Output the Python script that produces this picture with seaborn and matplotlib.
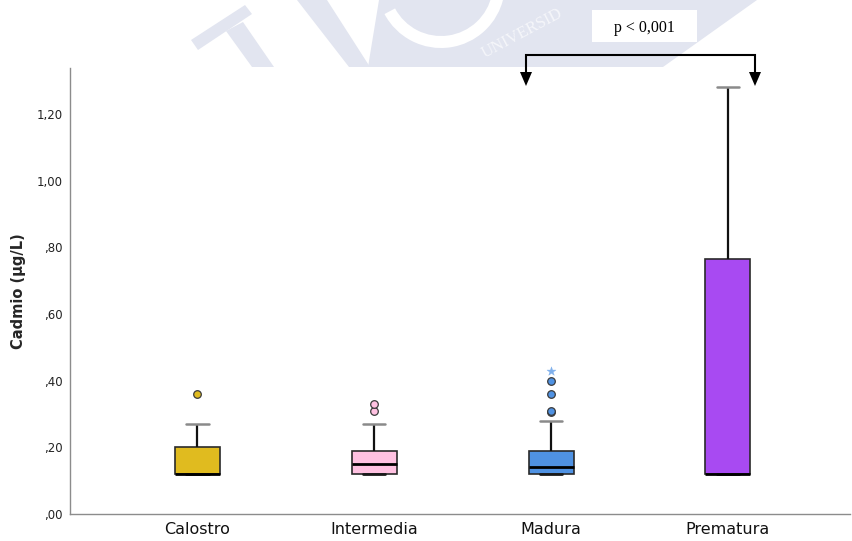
import numpy as np
import pandas as pd
import seaborn as sns
import matplotlib.pyplot as plt
from matplotlib.patches import Polygon, Rectangle, Wedge

# Cadmium concentration (µg/L) per milk type
grupos = ["Calostro", "Intermedia", "Madura", "Prematura"]
calostro = [0.12, 0.12, 0.12, 0.12, 0.12, 0.12, 0.12, 0.16, 0.20, 0.20, 0.21, 0.27, 0.36]
intermedia = [0.12, 0.12, 0.12, 0.12, 0.12, 0.13, 0.14, 0.14, 0.15, 0.16, 0.17, 0.18,
              0.19, 0.21, 0.27, 0.31, 0.33]
madura = [0.12, 0.12, 0.12, 0.12, 0.12, 0.12, 0.12, 0.12, 0.12, 0.13, 0.13, 0.13,
          0.14, 0.14, 0.14, 0.15, 0.16, 0.17, 0.18, 0.18, 0.19, 0.19, 0.23, 0.28,
          0.305, 0.31, 0.36, 0.40, 0.43]
prematura = [0.12, 0.12, 0.12, 0.765, 1.28]
colores = ["#e0bb1f", "#ffc1e1", "#4f92e3", "#a84af2"]
ytick_vals = [0.0, 0.2, 0.4, 0.6, 0.8, 1.0, 1.2]
ytick_labels = [",00", ",20", ",40", ",60", ",80", "1,00", "1,20"]
p_texto = "p < 0,001"

valores = [calostro, intermedia, madura, prematura]
df = pd.DataFrame({
    "grupo": np.repeat(grupos, [len(v) for v in valores]),
    "cadmio": np.concatenate(valores),
})

sns.set_theme(style="white")
plt.rcParams["font.family"] = ["DejaVu Sans"]

fig = plt.figure(figsize=(8.53, 5.41), dpi=100)
ax = fig.add_axes([70 / 853, 1 - 514 / 541, 780 / 853, (514 - 68) / 541])
ax.set_facecolor("none")

sns.boxplot(
    data=df, x="grupo", y="cadmio", hue="grupo", order=grupos, hue_order=grupos,
    palette=colores, saturation=1, width=0.254, linecolor="#2a2a2a", linewidth=1.2,
    showfliers=False, whis=1.5, legend=False, ax=ax,
    medianprops=dict(color="black", linewidth=2.0),
    whiskerprops=dict(color="#111111", linewidth=1.6),
    capprops=dict(color="#8a8a8a", linewidth=1.8),
)
# lower caps sit on the box edge and read as black
for cont in ax.containers:
    caps = getattr(cont, "caps", None)
    if caps is not None:
        for k in range(0, len(caps), 2):
            caps[k].set_color("#1a1a1a")
            caps[k].set_linewidth(2.0)

# outliers: circles beyond 1.5 IQR, stars beyond 3 IQR
for i, (vals, col) in enumerate(zip(valores, colores)):
    v = np.asarray(vals)
    q1, q3 = np.percentile(v, [25, 75])
    iqr = q3 - q1
    mild = v[(v > q3 + 1.5 * iqr + 1e-9) & (v <= q3 + 3 * iqr + 1e-9)]
    extreme = v[v > q3 + 3 * iqr + 1e-9]
    ax.scatter(np.full(len(mild), i), mild, s=30, color=col, edgecolor="#3a3a3a",
               linewidth=0.9, zorder=5)
    ax.scatter(np.full(len(extreme), i), extreme, s=45, marker="*", color="#7fb0ec",
               edgecolor="#7fb0ec", linewidth=0.3, zorder=5)

ax.set_xlim(-0.72, 3.69)
ax.set_ylim(0, 1.338)
ax.set_yticks(ytick_vals)
ax.set_yticklabels(ytick_labels, fontsize=8.5, color="#222222")
ax.set_xlabel("")
ax.set_ylabel("Cadmio (µg/L)", fontsize=10.5, fontweight="bold")
ax.yaxis.set_label_coords(-44 / 780, 0.5)
ax.tick_params(axis="y", length=0, pad=5)
ax.tick_params(axis="x", length=0, pad=6, labelsize=11.5, labelcolor="#111111")
for s in ["top", "right"]:
    ax.spines[s].set_visible(False)
for s in ["left", "bottom"]:
    ax.spines[s].set_color("#8c8c8c")
    ax.spines[s].set_linewidth(1.0)

# overlay in pixel units for the header logo and significance bracket
ov = fig.add_axes([0, 0, 1, 1], zorder=10)
ov.set_xlim(0, 853)
ov.set_ylim(541, 0)
ov.axis("off")
ov.patch.set_alpha(0)

lav = "#e2e5f0"
clip = Rectangle((0, 0), 853, 67, transform=ov.transData)
shapes = [
    Polygon([(191, 40), (245, 5), (252, 14), (198, 50)], closed=True),
    Polygon([(226, 31), (243, 22), (274, 67), (252, 67)], closed=True),
    Polygon([(297, 0), (327, 0), (370, 67), (349, 67)], closed=True),
    Polygon([(379, 0), (757, 0), (663, 67), (368, 67)], closed=True),
]
for p in shapes:
    p.set_facecolor(lav)
    p.set_edgecolor("none")
    ov.add_patch(p)
    p.set_clip_path(clip)
ring = Wedge((441, -16), 64, 12, 152, width=12, facecolor="white", edgecolor="none")
ov.add_patch(ring)
ring.set_clip_path(clip)
ov.text(522, 33, "UNIVERSID", rotation=28, fontsize=12, color="#f5f6fa",
        family="Liberation Serif", ha="center", va="center")

# significance bracket
ov.add_patch(Rectangle((592, 10), 105, 32, facecolor="white", edgecolor="none"))
ov.text(644, 28, p_texto, fontsize=11.5, family="Liberation Serif",
        ha="center", va="center", color="black")
ov.plot([526, 526, 755, 755], [73, 55, 55, 73], color="black", lw=1.5,
        solid_joinstyle="miter")
for xa in (526, 755):
    ov.add_patch(Polygon([(xa - 6, 72), (xa + 6, 72), (xa, 86)], closed=True,
                         facecolor="black", edgecolor="none"))

fig.savefig("out.png", dpi=100)
